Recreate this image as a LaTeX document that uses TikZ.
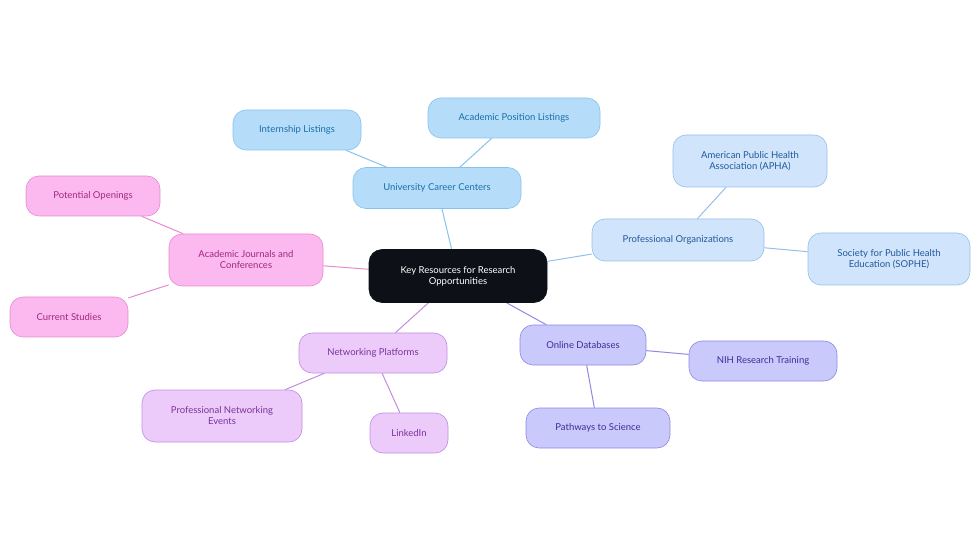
\documentclass[tikz,border=0pt]{standalone}
\usepackage{fontspec}
\setmainfont{Lato}
\usetikzlibrary{backgrounds}
\definecolor{rootc}{HTML}{0D1117}
\definecolor{blueF}{HTML}{B5DDFA}\definecolor{blueD}{HTML}{86C3EC}\definecolor{blueT}{HTML}{1C6FA6}
\definecolor{skyF}{HTML}{D0E5FB}\definecolor{skyD}{HTML}{95BFEA}\definecolor{skyT}{HTML}{22589C}
\definecolor{violF}{HTML}{CAC9FB}\definecolor{violD}{HTML}{8E89E3}\definecolor{violT}{HTML}{3A2F95}
\definecolor{lilaF}{HTML}{ECCBFB}\definecolor{lilaD}{HTML}{C08DE0}\definecolor{lilaT}{HTML}{7A3398}
\definecolor{pinkF}{HTML}{FCB9EF}\definecolor{pinkD}{HTML}{E78ACF}\definecolor{pinkT}{HTML}{A0287F}
\tikzset{
  box/.style={rounded corners=13pt, draw, line width=0.6pt, align=center,
    font=\fontsize{9.5}{11}\selectfont, inner sep=0pt},
  blue/.style={box, fill=blueF, draw=blueD, text=blueT},
  sky/.style={box, fill=skyF, draw=skyD, text=skyT},
  viol/.style={box, fill=violF, draw=violD, text=violT},
  lila/.style={box, fill=lilaF, draw=lilaD, text=lilaT},
  pink/.style={box, fill=pinkF, draw=pinkD, text=pinkT},
  link/.style={line width=1pt}
}
\begin{document}
\begin{tikzpicture}[x=1pt,y=-1pt]
\useasboundingbox (0,0) rectangle (980,553);
\node[box, fill=rootc, draw=rootc, text=white, minimum width=178pt, minimum height=53pt] (root) at (458,276) {Key Resources for Research\\Opportunities};

\node[blue, minimum width=168pt, minimum height=41pt] (career) at (437,188) {University Career Centers};
\node[blue, minimum width=128pt, minimum height=40pt] (intern) at (297,130) {Internship Listings};
\node[blue, minimum width=172pt, minimum height=40pt] (acpos) at (514,118) {Academic Position Listings};

\node[sky, minimum width=172pt, minimum height=42pt] (proforg) at (678,240) {Professional Organizations};
\node[sky, minimum width=154pt, minimum height=52pt] (apha) at (750,161) {American Public Health\\Association (APHA)};
\node[sky, minimum width=162pt, minimum height=52pt] (sophe) at (889,259) {Society for Public Health\\Education (SOPHE)};

\node[viol, minimum width=126pt, minimum height=40pt] (onlinedb) at (583,345) {Online Databases};
\node[viol, minimum width=148pt, minimum height=40pt] (nih) at (763,361) {NIH Research Training};
\node[viol, minimum width=144pt, minimum height=40pt] (pathways) at (598,428) {Pathways to Science};

\node[lila, minimum width=148pt, minimum height=40pt] (netplat) at (373,353) {Networking Platforms};
\node[lila, minimum width=160pt, minimum height=52pt] (netevents) at (222,416) {Professional Networking\\Events};
\node[lila, minimum width=78pt, minimum height=40pt] (linkedin) at (409,433) {LinkedIn};

\node[pink, minimum width=154pt, minimum height=52pt] (journals) at (246,260) {Academic Journals and\\Conferences};
\node[pink, minimum width=134pt, minimum height=40pt] (openings) at (93,196) {Potential Openings};
\node[pink, minimum width=118pt, minimum height=40pt] (studies) at (69,317) {Current Studies};

\begin{pgfonlayer}{background}
\draw[link, blueD] (root) -- (career) (career) -- (intern) (career) -- (acpos);
\draw[link, skyD] (root) -- (proforg) (proforg) -- (apha) (proforg) -- (sophe);
\draw[link, violD] (root) -- (onlinedb) (onlinedb) -- (nih) (onlinedb) -- (pathways);
\draw[link, lilaD] (root) -- (netplat) (netplat) -- (netevents) (netplat) -- (linkedin);
\draw[link, pinkD] (root) -- (journals) (journals) -- (openings) (journals) -- (studies);
\end{pgfonlayer}
\end{tikzpicture}
\end{document}
